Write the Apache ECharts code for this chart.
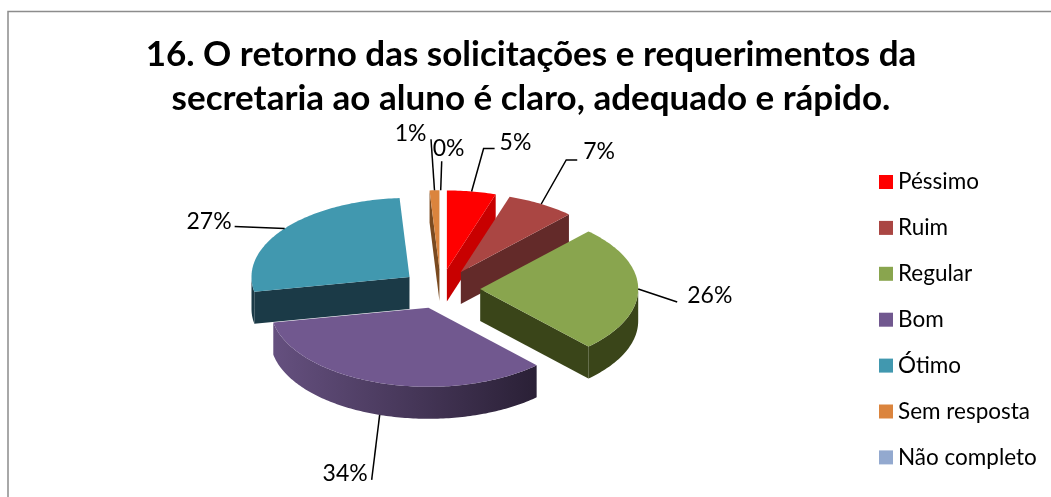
<!DOCTYPE html>
<html>
<head>
<meta charset="utf-8">
<title>16. O retorno das solicitações</title>
<script src="https://cdn.jsdelivr.net/npm/echarts@6/dist/echarts.min.js"></script>
<style>
html, body { margin: 0; padding: 0; background: #fff; }
#main { width: 1051px; height: 497px; }
</style>
</head>
<body>
<div id="main"></div>
<script>
var chartTitle = '16. O retorno das solicitações e requerimentos da\nsecretaria ao aluno é claro, adequado e rápido.';
var categories = ['Péssimo', 'Ruim', 'Regular', 'Bom', 'Ótimo', 'Sem resposta', 'Não completo'];
var percents = [5, 7, 26, 34, 27, 1, 0];
var topColors = ['#ff0000', '#aa4643', '#89a54e', '#71588f', '#4198af', '#db843d', '#93a9cf'];
var wallColors = ['#c80000', '#632a29', '#3a4519', '#65507f', '#1b3a47', '#7a4a20', '#55627a'];
var wallEndColors = ['#c80000', '#632a29', '#3a4519', '#2a2036', '#1b3a47', '#7a4a20', '#55627a'];
// order slices are painted in, back to front
var drawOrder = [6, 5, 0, 1, 4, 2, 3];

// label leader, offsets from the point where it touches the slice
var leaderPoints = [
	[[12, -43], [23, -43]],
	[[25, -44], [36, -44]],
	[[39, 13]],
	[[-8, 65]],
	[[-50, -2]],
	[[-3.5, -51]],
	[[1, -29]]
];
var labelOffsets = [[28, -49, 'left'], [42, -52, 'left'], [49, 7, 'left'], [-12, 59, 'right'], [-53, -7, 'right'], [-8, -57, 'right'], [-8, -42, 'left']];

var pie = { cx: 440.7, cy: 289, rx: 158, ry: 79, depth: 32, explode: 0.25 };

function rimPoint(center, deg, dy) {
	var a = deg * Math.PI / 180;
	return [center[0] + pie.rx * Math.sin(a), center[1] - pie.ry * Math.cos(a) + (dy || 0)];
}

function arcPoints(center, from, to, dy) {
	var pts = [];
	var steps = Math.max(1, Math.ceil(Math.abs(to - from)));
	for (var i = 0; i <= steps; i++) {
		pts.push(rimPoint(center, from + (to - from) * i / steps, dy));
	}
	return pts;
}

function wallFill(idx) {
	return new echarts.graphic.LinearGradient(0, 0, 1, 0, [
		{ offset: 0, color: wallColors[idx] },
		{ offset: 1, color: wallEndColors[idx] }
	]);
}

function renderSlice(idx, api) {
	var value = api.value(0);
	var before = 0;
	for (var i = 0; i < idx; i++) before += percents[i];
	var start = before * 3.6;
	var end = (before + value) * 3.6;
	var mid = (start + end) / 2;
	var midA = mid * Math.PI / 180;
	var center = [
		pie.cx + pie.rx * pie.explode * Math.sin(midA),
		pie.cy - pie.ry * pie.explode * Math.cos(midA)
	];
	var children = [];

	function addPoly(points, fill) {
		children.push({ type: 'polygon', shape: { points: points }, style: { fill: fill } });
	}

	function addRadialWall(deg) {
		var rim = rimPoint(center, deg);
		addPoly([center, rim, [rim[0], rim[1] + pie.depth], [center[0], center[1] + pie.depth]], wallFill(idx));
	}

	if (value > 0) {
		if (Math.sin(start * Math.PI / 180) < 0) addRadialWall(start);
		if (Math.sin(end * Math.PI / 180) > 0) addRadialWall(end);
		// outer wall only where the rim faces us
		var wallFrom = Math.max(start, 90);
		var wallTo = Math.min(end, 270);
		if (wallTo > wallFrom) {
			var outer = arcPoints(center, wallFrom, wallTo, 0);
			var lower = arcPoints(center, wallTo, wallFrom, pie.depth);
			addPoly(outer.concat(lower), wallFill(idx));
		}
		addPoly([center].concat(arcPoints(center, start, end, 0)), topColors[idx]);
	}

	// leader line and label
	var front = Math.cos(midA) < -0.5;
	var anchor = rimPoint(center, mid, front ? pie.depth : 0);
	var line = [anchor];
	leaderPoints[idx].forEach(function (p) {
		line.push([anchor[0] + p[0], anchor[1] + p[1]]);
	});
	children.push({
		type: 'polyline',
		z2: 50,
		shape: { points: line },
		style: { fill: null, stroke: '#000', lineWidth: 1.5 }
	});
	children.push({
		type: 'text',
		z2: 60,
		x: anchor[0] + labelOffsets[idx][0],
		y: anchor[1] + labelOffsets[idx][1],
		style: {
			text: value + '%',
			fill: '#000',
			font: '23px Lato',
			align: labelOffsets[idx][2],
			verticalAlign: 'middle'
		}
	});
	return { type: 'group', children: children };
}

function createOption() {
	var series = drawOrder.map(function (idx, order) {
		return {
			type: 'custom',
			name: categories[idx],
			coordinateSystem: 'none',
			z: 2 + order,
			silent: true,
			itemStyle: { color: topColors[idx] },
			data: [[percents[idx]]],
			renderItem: function (params, api) {
				return renderSlice(idx, api);
			}
		};
	});
	var option = {
		animation: false,
		backgroundColor: '#fff',
		title: {
			text: chartTitle,
			left: 526,
			top: 28,
			textAlign: 'center',
			textStyle: {
				fontFamily: 'Lato',
				fontWeight: 'bold',
				fontSize: 35,
				lineHeight: 44,
				color: '#000'
			}
		},
		legend: {
			orient: 'vertical',
			left: 879,
			top: 170,
			padding: 0,
			icon: 'rect',
			itemWidth: 14,
			itemHeight: 14,
			itemGap: 21.9,
			selectedMode: false,
			data: categories,
			textStyle: { fontFamily: 'Lato', fontSize: 22.5, color: '#000', lineHeight: 24 }
		},
		graphic: [{
			type: 'polyline',
			silent: true,
			shape: { points: [[8, 497], [8, 11.5], [1051, 11.5]] },
			style: { fill: null, stroke: '#8c8c8c', lineWidth: 1.5 }
		}],
		series: series
	};
	return option;
}

var myChart = echarts.init(document.getElementById('main'));
myChart.setOption(createOption());
</script>
</body>
</html>
